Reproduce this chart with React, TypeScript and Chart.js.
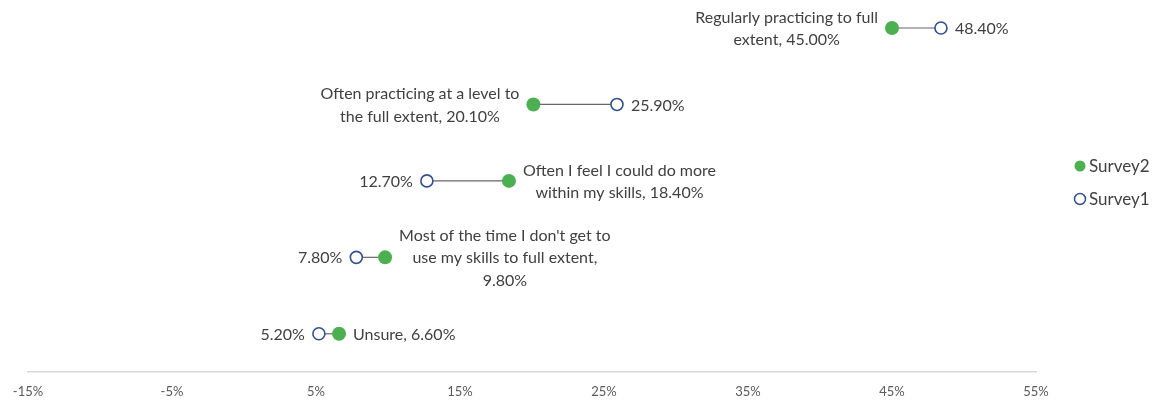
import React, { useEffect, useRef } from "react";
import { Chart, registerables } from "chart.js";

Chart.register(...registerables);

// ---- data ----
const categories = [
  "Regularly practicing to full extent",
  "Often practicing at a level to the full extent",
  "Often I feel I could do more within my skills",
  "Most of the time I don't get to use my skills to full extent",
  "Unsure",
];
const survey2Values = [45.0, 20.1, 18.4, 9.8, 6.6];
const survey1Values = [48.4, 25.9, 12.7, 7.8, 5.2];
// wrapped display text of the Survey2 labels ({v} = value)
const survey2LabelText = [
  "Regularly practicing to full\nextent, {v}",
  "Often practicing at a level to\nthe full extent, {v}",
  "Often I feel I could do more\nwithin my skills, {v}",
  "Most of the time I don't get to\nuse my skills to full extent,\n{v}",
  "Unsure, {v}",
];
const rowPositions = [5, 4, 3, 2, 1];
const xTicks = [-15, -5, 5, 15, 25, 35, 45, 55];
const seriesNames = ["Survey2", "Survey1"];

const GREEN = "#4CAF50";
const BLUE = "#34508F";
const TEXT = "#404040";
const FONT = "Lato, 'Open Sans', sans-serif";

const fmt = (v: number) => v.toFixed(2) + "%";

const connectorPlugin = {
  id: "connectors",
  beforeDatasetsDraw(chart: any) {
    const ctx = chart.ctx;
    const m2 = chart.getDatasetMeta(0);
    const m1 = chart.getDatasetMeta(1);
    ctx.save();
    ctx.strokeStyle = "#666666";
    ctx.lineWidth = 1.2;
    m2.data.forEach((p: any, i: number) => {
      const q = m1.data[i];
      if (!q) return;
      ctx.beginPath();
      ctx.moveTo(p.x, p.y);
      ctx.lineTo(q.x, q.y);
      ctx.stroke();
    });
    ctx.restore();
  },
};

const labelPlugin = {
  id: "pairLabels",
  afterDatasetsDraw(chart: any) {
    const ctx = chart.ctx;
    const m2 = chart.getDatasetMeta(0);
    const m1 = chart.getDatasetMeta(1);
    ctx.save();
    ctx.font = `16px ${FONT}`;
    ctx.fillStyle = TEXT;
    ctx.textBaseline = "middle";
    ctx.textAlign = "center";
    const lineH = 22.5;
    const gap = 14;
    const drawBlock = (lines: string[], px: number, py: number, side: "left" | "right") => {
      const w = Math.max(...lines.map((l) => ctx.measureText(l).width));
      const cx = side === "left" ? px - gap - w / 2 : px + gap + w / 2;
      const top = py - ((lines.length - 1) * lineH) / 2;
      lines.forEach((l, k) => ctx.fillText(l, cx, top + k * lineH + 1));
    };
    m2.data.forEach((p: any, i: number) => {
      const q = m1.data[i];
      const greenLines = survey2LabelText[i].replace("{v}", fmt(survey2Values[i])).split("\n");
      const blueLines = [fmt(survey1Values[i])];
      const greenLeft = survey2Values[i] <= survey1Values[i];
      drawBlock(greenLines, p.x, p.y, greenLeft ? "left" : "right");
      drawBlock(blueLines, q.x, q.y, greenLeft ? "right" : "left");
    });
    ctx.restore();
  },
};

const legendPlugin = {
  id: "sideLegend",
  afterDraw(chart: any) {
    const ctx = chart.ctx;
    const area = chart.chartArea;
    const x = area.right + 44;
    const cy = (area.top + area.bottom) / 2 - 3.5;
    ctx.save();
    ctx.font = `17px ${FONT}`;
    ctx.textBaseline = "middle";
    ctx.textAlign = "left";
    chart.data.datasets.forEach((ds: any, i: number) => {
      const y = cy + (i === 0 ? -16.5 : 16.5);
      ctx.beginPath();
      ctx.arc(x, y, 5.5, 0, Math.PI * 2);
      ctx.fillStyle = ds.pointBackgroundColor;
      ctx.fill();
      if (ds.pointBorderWidth > 0) {
        ctx.lineWidth = 1.5;
        ctx.strokeStyle = ds.pointBorderColor;
        ctx.stroke();
      }
      ctx.fillStyle = TEXT;
      ctx.fillText(ds.label, x + 9, y + 1);
    });
    ctx.restore();
  },
};

export default function App() {
  const ref = useRef<HTMLCanvasElement>(null);
  useEffect(() => {
    if (!ref.current) return;
    const chart = new Chart(ref.current, {
      type: "scatter",
      data: {
        labels: categories,
        datasets: [
          {
            label: seriesNames[0],
            data: survey2Values.map((v, i) => ({ x: v, y: rowPositions[i] })),
            pointBackgroundColor: GREEN,
            pointBorderColor: GREEN,
            pointBorderWidth: 0,
            pointRadius: 7,
            pointHoverRadius: 7,
          } as any,
          {
            label: seriesNames[1],
            data: survey1Values.map((v, i) => ({ x: v, y: rowPositions[i] })),
            pointBackgroundColor: "#FFFFFF",
            pointBorderColor: BLUE,
            pointBorderWidth: 1.6,
            pointRadius: 6,
            pointHoverRadius: 6,
          } as any,
        ],
      },
      options: {
        animation: false,
        responsive: true,
        maintainAspectRatio: false,
        layout: { autoPadding: false, padding: { left: 28, right: 125, top: 0, bottom: 0 } },
        clip: false as any,
        plugins: {
          legend: { display: false },
          tooltip: { enabled: false },
        },
        scales: {
          x: {
            type: "linear",
            min: -15,
            max: 55,
            afterBuildTicks: (s: any) => {
              s.ticks = xTicks.map((v) => ({ value: v }));
            },
            afterFit: (s: any) => {
              s.height = 29;
            },
            grid: { display: false, drawTicks: false },
            border: { display: true, color: "#D9D9D9", width: 1.5 },
            ticks: {
              padding: 12,
              color: "#595959",
              font: { family: FONT, size: 13 },
              callback: (v: any) => v + "%",
            },
          },
          y: {
            type: "linear",
            display: false,
            min: 0.5,
            max: 5.366,
          },
        },
      },
      plugins: [connectorPlugin, labelPlugin, legendPlugin],
    });
    return () => chart.destroy();
  }, []);
  return (
    <div style={{ position: "absolute", left: 0, top: 0, width: 1161, height: 401, background: "#fff" }}>
      <canvas ref={ref} />
    </div>
  );
}
